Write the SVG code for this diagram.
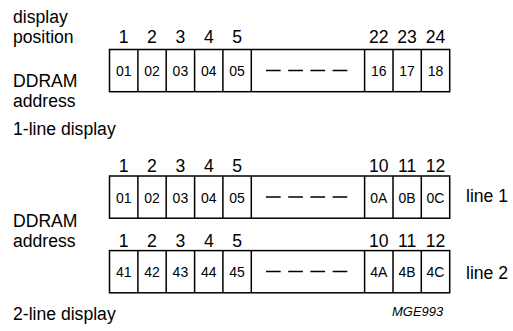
<svg xmlns="http://www.w3.org/2000/svg" width="513" height="331" viewBox="0 0 513 331">
<style>
  text { font-family: "Liberation Sans", Arial, sans-serif; fill: #000; }
  .lbl { font-size: 17.6px; }
  .num { font-size: 17.6px; text-anchor: middle; }
  .cell { font-size: 14px; text-anchor: middle; }
  .box { fill: #fff; stroke: #000; stroke-width: 1.5; }
  .div { stroke: #000; stroke-width: 1.5; }
  .dash { stroke: #000; stroke-width: 1.6; stroke-dasharray: 14.7 7.5; }
  .tag { font-size: 13px; font-style: italic; }
</style>
<rect width="513" height="331" fill="#fff"/>

<g id="labels">
  <text class="lbl" x="13" y="23">display</text>
  <text class="lbl" x="13" y="43">position</text>
  <text class="lbl" x="13" y="87">DDRAM</text>
  <text class="lbl" x="13" y="107">address</text>
  <text class="lbl" x="13" y="135">1-line display</text>
  <text class="lbl" x="13" y="227">DDRAM</text>
  <text class="lbl" x="13" y="247">address</text>
  <text class="lbl" x="13" y="320">2-line display</text>
  <text class="lbl" x="466" y="202">line 1</text>
  <text class="lbl" x="466" y="279">line 2</text>
  <text class="tag" x="392" y="316">MGE993</text>
</g>

<g id="row1">
  <text class="num" x="123.7" y="43">1</text>
  <text class="num" x="152" y="43">2</text>
  <text class="num" x="180.4" y="43">3</text>
  <text class="num" x="208.8" y="43">4</text>
  <text class="num" x="237.1" y="43">5</text>
  <text class="num" x="378.8" y="43">22</text>
  <text class="num" x="407.1" y="43">23</text>
  <text class="num" x="435.5" y="43">24</text>
  <rect class="box" x="109.5" y="49.5" width="340.2" height="42.2"/>
  <path class="div" d="M137.9 49.5V91.7M166.2 49.5V91.7M194.6 49.5V91.7M222.9 49.5V91.7M251.3 49.5V91.7M364.6 49.5V91.7M393 49.5V91.7M421.3 49.5V91.7"/>
  <line class="dash" x1="266" y1="70.5" x2="347.5" y2="70.5"/>
  <text class="cell" x="123.7" y="76">01</text>
  <text class="cell" x="152" y="76">02</text>
  <text class="cell" x="180.4" y="76">03</text>
  <text class="cell" x="208.8" y="76">04</text>
  <text class="cell" x="237.1" y="76">05</text>
  <text class="cell" x="378.8" y="76">16</text>
  <text class="cell" x="407.1" y="76">17</text>
  <text class="cell" x="435.5" y="76">18</text>
</g>

<g id="row2">
  <text class="num" x="123.7" y="172">1</text>
  <text class="num" x="152" y="172">2</text>
  <text class="num" x="180.4" y="172">3</text>
  <text class="num" x="208.8" y="172">4</text>
  <text class="num" x="237.1" y="172">5</text>
  <text class="num" x="378.8" y="172">10</text>
  <text class="num" x="407.1" y="172">11</text>
  <text class="num" x="435.5" y="172">12</text>
  <rect class="box" x="109.5" y="176" width="340.2" height="42.2"/>
  <path class="div" d="M137.9 176V218.2M166.2 176V218.2M194.6 176V218.2M222.9 176V218.2M251.3 176V218.2M364.6 176V218.2M393 176V218.2M421.3 176V218.2"/>
  <line class="dash" x1="266" y1="197" x2="347.5" y2="197"/>
  <text class="cell" x="123.7" y="202.5">01</text>
  <text class="cell" x="152" y="202.5">02</text>
  <text class="cell" x="180.4" y="202.5">03</text>
  <text class="cell" x="208.8" y="202.5">04</text>
  <text class="cell" x="237.1" y="202.5">05</text>
  <text class="cell" x="378.8" y="202.5">0A</text>
  <text class="cell" x="407.1" y="202.5">0B</text>
  <text class="cell" x="435.5" y="202.5">0C</text>
</g>

<g id="row3">
  <text class="num" x="123.7" y="247">1</text>
  <text class="num" x="152" y="247">2</text>
  <text class="num" x="180.4" y="247">3</text>
  <text class="num" x="208.8" y="247">4</text>
  <text class="num" x="237.1" y="247">5</text>
  <text class="num" x="378.8" y="247">10</text>
  <text class="num" x="407.1" y="247">11</text>
  <text class="num" x="435.5" y="247">12</text>
  <rect class="box" x="109.5" y="250.6" width="340.2" height="42.2"/>
  <path class="div" d="M137.9 250.6V292.8M166.2 250.6V292.8M194.6 250.6V292.8M222.9 250.6V292.8M251.3 250.6V292.8M364.6 250.6V292.8M393 250.6V292.8M421.3 250.6V292.8"/>
  <line class="dash" x1="266" y1="271.5" x2="347.5" y2="271.5"/>
  <text class="cell" x="123.7" y="277">41</text>
  <text class="cell" x="152" y="277">42</text>
  <text class="cell" x="180.4" y="277">43</text>
  <text class="cell" x="208.8" y="277">44</text>
  <text class="cell" x="237.1" y="277">45</text>
  <text class="cell" x="378.8" y="277">4A</text>
  <text class="cell" x="407.1" y="277">4B</text>
  <text class="cell" x="435.5" y="277">4C</text>
</g>
</svg>
